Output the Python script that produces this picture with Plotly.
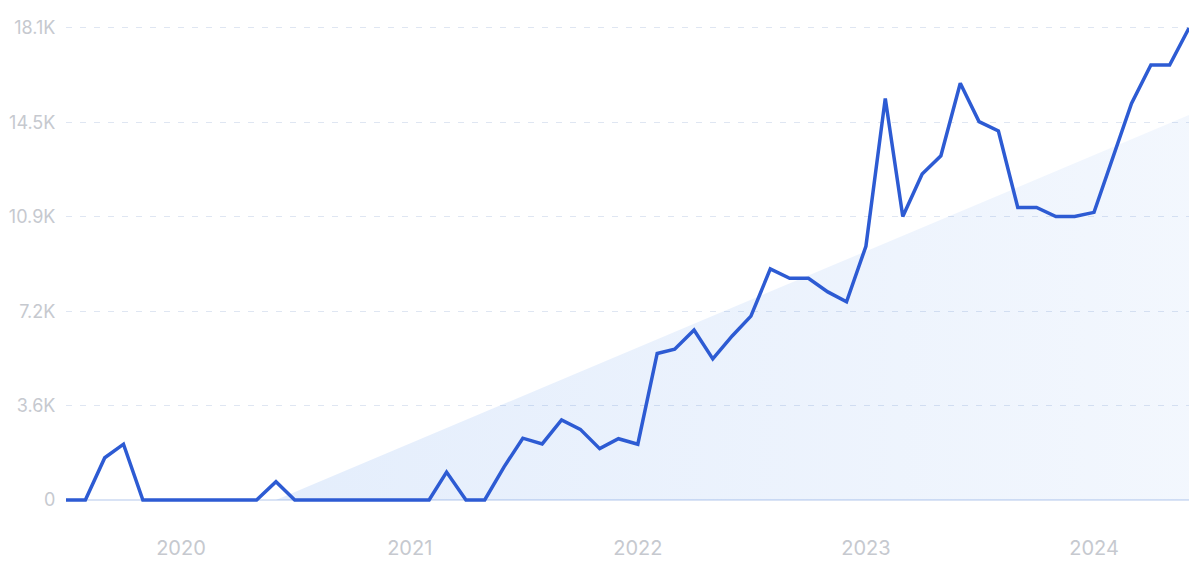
import pandas as pd
import plotly.graph_objects as go

# ---- data ----
start_month = "2019-07-01"
values = [
    0, 0, 1620, 2140, 0, 0, 0, 0, 0, 0, 0, 700,          # 2019-07 .. 2020-06
    0, 0, 0, 0, 0, 0, 0, 0, 1070, 0, 0, 1270,            # 2020-07 .. 2021-06
    2370, 2150, 3070, 2710, 1970, 2350, 2140, 5620, 5780, 6520, 5410, 6290,  # 2021-07 .. 2022-06
    7050, 8860, 8500, 8500, 7980, 7600, 9730, 15400, 10870, 12500, 13200, 15980,  # 2022-07 .. 2023-06
    14510, 14150, 11220, 11220, 10870, 10870, 11030, 13190, 15210, 16680, 16680, 18100,  # 2023-07 .. 2024-06
]
months = pd.date_range(start_month, periods=len(values), freq="MS")

trend_dates = ["2020-06-01", "2024-06-01"]
trend_values = [0, 14760]

ytick_vals = [0, 3620, 7240, 10860, 14480, 18100]
ytick_text = ["0", "3.6K", "7.2K", "10.9K", "14.5K", "18.1K"]
xtick_vals = ["2020-01-01", "2021-01-01", "2022-01-01", "2023-01-01", "2024-01-01"]
xtick_text = ["2020", "2021", "2022", "2023", "2024"]

LINE = "#2d5bd3"
LABEL = "#c6c9cf"
FONT = "Inter, Lato, sans-serif"

fig = go.Figure()
fig.add_trace(go.Scatter(
    x=trend_dates, y=trend_values, mode="lines",
    line=dict(width=0, color="rgba(0,0,0,0)"),
    fill="tozeroy",
    fillgradient=dict(type="horizontal",
                      colorscale=[[0, "rgba(30,110,230,0.12)"],
                                  [1, "rgba(30,110,230,0.055)"]]),
    hoverinfo="skip", showlegend=False,
))
fig.add_trace(go.Scatter(
    x=months, y=values, mode="lines",
    line=dict(color=LINE, width=3.5),
    showlegend=False,
))

fig.update_layout(
    width=1200, height=564,
    margin=dict(l=66, r=11, t=18, b=54),
    paper_bgcolor="white", plot_bgcolor="white",
    font=dict(family=FONT, color=LABEL),
)
fig.update_xaxes(
    type="date",
    range=["2019-07-01", "2024-06-01"],
    tickvals=xtick_vals, ticktext=xtick_text,
    tickfont=dict(size=20, color=LABEL, family=FONT),
    ticks="outside", ticklen=20, tickcolor="rgba(0,0,0,0)",
    showgrid=False, zeroline=False, showline=False,
    automargin=False,
)
fig.update_yaxes(
    range=[-383.5, 18482.6],
    tickvals=ytick_vals, ticktext=ytick_text,
    tickfont=dict(size=18, color=LABEL, family=FONT),
    ticks="outside", ticklen=6, tickcolor="rgba(0,0,0,0)",
    showgrid=True, gridcolor="#dfe6f2", gridwidth=1, griddash="6px,8px",
    zeroline=True, zerolinecolor="#d9e3f5", zerolinewidth=1.5,
    showline=False, automargin=False,
)

fig.write_html("out.html", config={"displayModeBar": False},
               post_script="document.body.style.margin='0';")
